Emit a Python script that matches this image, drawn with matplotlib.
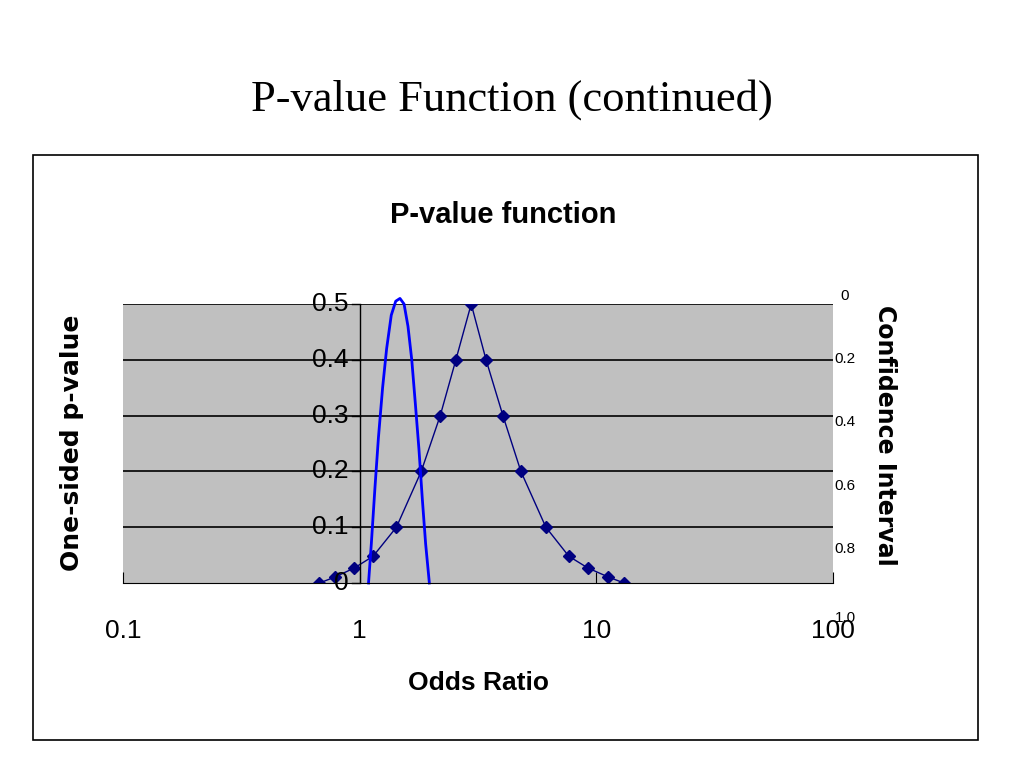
import matplotlib
matplotlib.use("Agg")
import matplotlib.pyplot as plt
from matplotlib.patches import Rectangle
from matplotlib import font_manager

odds = [0.676, 0.79, 0.95, 1.14, 1.43, 1.82, 2.19, 2.55, 2.96, 3.42, 4.03, 4.80, 6.12, 7.65, 9.2, 11.2, 13.1]
pval = [0.0, 0.011, 0.027, 0.048, 0.1, 0.2, 0.3, 0.4, 0.5, 0.4, 0.3, 0.2, 0.1, 0.048, 0.027, 0.011, 0.0]

curve_x = [1.09, 1.12, 1.16, 1.20, 1.25, 1.30, 1.36, 1.42, 1.48, 1.54, 1.60, 1.66, 1.72, 1.78, 1.84, 1.90, 1.97]
curve_y = [0.0, 0.07, 0.17, 0.26, 0.35, 0.42, 0.48, 0.505, 0.51, 0.50, 0.46, 0.40, 0.32, 0.24, 0.15, 0.07, 0.0]

left_ticks = [0, 0.1, 0.2, 0.3, 0.4, 0.5]
right_labels = ["0", "0.2", "0.4", "0.6", "0.8", "1.0"]
x_ticks = [0.1, 1, 10, 100]
x_labels = ["0.1", "1", "10", "100"]

names = {f.name for f in font_manager.fontManager.ttflist}
narrow = "Liberation Sans Narrow" if "Liberation Sans Narrow" in names else "Liberation Sans"

W, H = 1024, 768
fig = plt.figure(figsize=(W/100, H/100), dpi=100)
fig.text(512/W, 1-100/H, "P-value Function (continued)", ha="center", va="center",
         fontsize=32, family="Liberation Serif")
fig.patches.append(Rectangle((33/W, 1-740/H), (978-33)/W, (740-155)/H, transform=fig.transFigure,
                             fill=False, edgecolor="black", lw=1.2))
fig.text(503/W, 1-215/H, "P-value function", ha="center", va="center", fontsize=21,
         fontweight="bold", family=narrow)

ax = fig.add_axes([123/W, 1-583/H, (833-123)/W, (583-304)/H])
ax.set_facecolor("#c0c0c0")
ax.set_xscale("log")
ax.set_xlim(0.1, 100)
ax.set_ylim(0, 0.5)
for t in left_ticks[1:]:
    ax.axhline(t, color="black", lw=1.2)
ax.plot(odds, pval, color="#000080", lw=1, marker="D", ms=6, markerfacecolor="#000080")
ax.plot(curve_x, curve_y, color="#0000ff", lw=2, clip_on=False)
for s in ["top", "right", "left"]:
    ax.spines[s].set_visible(False)
ax.set_yticks([])
ax.axvline(1, color="black", lw=1)
for t in left_ticks:
    ax.plot([0.93, 1], [t, t], color="black", lw=1, clip_on=False)
    ax.text(0.9, t, f"{t:g}", ha="right", va="center", fontsize=19, family=narrow)
ax.set_xticks(x_ticks)
ax.set_xticklabels(x_labels, fontsize=19, family=narrow)
ax.tick_params(axis="x", which="major", length=8, direction="in", pad=26)
ax.tick_params(axis="x", which="minor", length=0)
ax.set_xlabel("Odds Ratio", fontsize=19, fontweight="bold", family=narrow, labelpad=20)

for i, lab in enumerate(right_labels):
    y = 296 + i * 63.2 + (6 if i == 5 else 0)
    fig.text(845/W, 1-y/H, lab, ha="center", va="center", fontsize=11, family=narrow)
fig.text(885/W, 1-435/H, "Confidence Interval", rotation=-90, ha="center", va="center",
         fontsize=17, fontweight="bold", family="DejaVu Sans")
fig.text(72/W, 1-443/H, "One-sided p-value", rotation=90, ha="center", va="center",
         fontsize=18, fontweight="bold", family="DejaVu Sans")
fig.savefig("out.png", dpi=100)
